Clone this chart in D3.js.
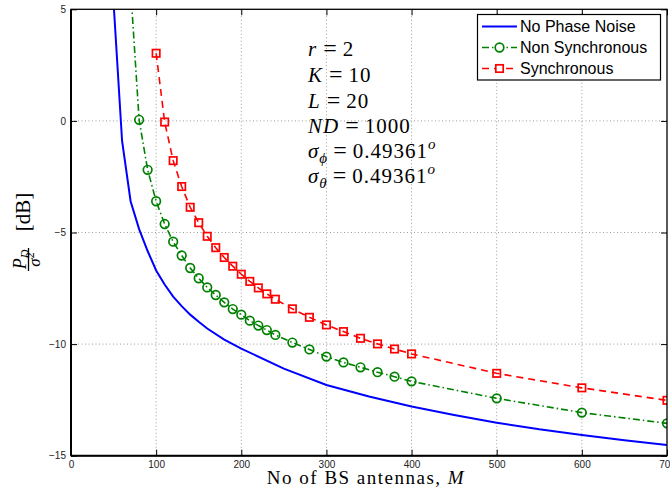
<!DOCTYPE html>
<html>
<head>
<meta charset="utf-8">
<script src="https://cdn.jsdelivr.net/npm/d3@7"></script>
<style>
  html, body { margin: 0; padding: 0; background: #fff; }
  svg { display: block; }
</style>
</head>
<body>
<div id="chart"></div>
<script>
// Values
const blueM = [50, 60, 70, 80, 90, 100, 110, 120, 130, 140, 150, 160, 180, 200, 250, 300, 350, 400, 450, 500, 550, 600, 650, 700];
const blueP = [5.3, -0.9, -3.6, -4.85, -5.83, -6.7, -7.33, -7.87, -8.3, -8.68, -9.0, -9.3, -9.8, -10.2, -11.1, -11.83, -12.35, -12.8, -13.18, -13.52, -13.82, -14.07, -14.31, -14.52];

const greenM = [70, 80, 90, 100, 110, 120, 130, 140, 150, 160, 170, 180, 190, 200, 210, 220, 230, 240, 260, 280, 300, 320, 340, 360, 380, 400, 500, 600, 700];
const greenP = [5.95, 0.05, -2.19, -3.6, -4.62, -5.41, -6.03, -6.59, -7.05, -7.46, -7.8, -8.13, -8.43, -8.68, -8.95, -9.17, -9.37, -9.59, -9.93, -10.24, -10.56, -10.82, -11.04, -11.26, -11.46, -11.67, -12.43, -13.07, -13.55];

const redM = [100, 110, 120, 130, 140, 150, 160, 170, 180, 190, 200, 210, 220, 230, 240, 260, 280, 300, 320, 340, 360, 380, 400, 500, 600, 700];
const redP = [3.03, -0.05, -1.78, -2.94, -3.87, -4.56, -5.17, -5.68, -6.12, -6.51, -6.87, -7.19, -7.48, -7.75, -7.99, -8.42, -8.8, -9.14, -9.44, -9.74, -9.99, -10.22, -10.44, -11.31, -11.96, -12.52];

const xTicks = [0, 100, 200, 300, 400, 500, 600, 700];
const yTicks = [-15, -10, -5, 0, 5];
const seriesNames = ["No Phase Noise", "Non Synchronous", "Synchronous"];

const width = 670, height = 494;
const pLeft = 71, pRight = 667, pTop = 9.3, pBottom = 455.7;

const svg = d3.select("#chart").append("svg")
    .attr("width", width)
    .attr("height", height);

const x = d3.scaleLinear().domain([0, 700]).range([pLeft, pRight]);
const y = d3.scaleLinear().domain([-15, 5]).range([pBottom, pTop]);

svg.append("clipPath").attr("id", "plotclip")
  .append("rect")
    .attr("x", pLeft).attr("y", pTop)
    .attr("width", pRight - pLeft).attr("height", pBottom - pTop);

// grid
const grid = svg.append("g");
grid.selectAll(".gx")
  .data(xTicks.slice(1, -1))
  .enter().append("line")
    .attr("x1", d => x(d)).attr("x2", d => x(d))
    .attr("y1", pTop).attr("y2", pBottom)
    .attr("stroke", "#9a9a9a").attr("stroke-width", 1)
    .attr("stroke-dasharray", "1,2.5");
grid.selectAll(".gy")
  .data(yTicks.slice(1, -1))
  .enter().append("line")
    .attr("x1", pLeft).attr("x2", pRight)
    .attr("y1", d => y(d)).attr("y2", d => y(d))
    .attr("stroke", "#9a9a9a").attr("stroke-width", 1)
    .attr("stroke-dasharray", "1,2.5");

// axes (ticks inside, on all four sides)
const tickFont = "Liberation Sans, Arial, sans-serif";
svg.append("g")
    .attr("transform", `translate(0,${pBottom})`)
    .call(d3.axisBottom(x).tickValues(xTicks).tickSizeInner(-6).tickSizeOuter(0).tickPadding(5))
    .call(g => g.select(".domain").remove())
    .call(g => g.selectAll("text").attr("font-size", "10px").attr("font-family", tickFont).attr("fill", "#222"));
svg.append("g")
    .attr("transform", `translate(0,${pTop})`)
    .call(d3.axisTop(x).tickValues(xTicks).tickSizeInner(-6).tickSizeOuter(0).tickFormat(""))
    .call(g => g.select(".domain").remove());
svg.append("g")
    .attr("transform", `translate(${pLeft},0)`)
    .call(d3.axisLeft(y).tickValues(yTicks).tickSizeInner(-6).tickSizeOuter(0).tickPadding(5)
      .tickFormat(d => d < 0 ? "\u2212" + Math.abs(d) : d))
    .call(g => g.select(".domain").remove())
    .call(g => g.selectAll("text").attr("font-size", "10px").attr("font-family", tickFont).attr("fill", "#222"));
svg.append("g")
    .attr("transform", `translate(${pRight},0)`)
    .call(d3.axisRight(y).tickValues(yTicks).tickSizeInner(-6).tickSizeOuter(0).tickFormat(""))
    .call(g => g.select(".domain").remove());

// lines
const line = d3.line().x(d => x(d[0])).y(d => y(d[1]));
const plot = svg.append("g").attr("clip-path", "url(#plotclip)");

const blue = blueM.map((m, i) => [m, blueP[i]]);
const green = greenM.map((m, i) => [m, greenP[i]]);
const red = redM.map((m, i) => [m, redP[i]]);

plot.append("path").datum(blue)
    .attr("d", line).attr("fill", "none")
    .attr("stroke", "#0000ff").attr("stroke-width", 2);

plot.append("path").datum(green)
    .attr("d", line).attr("fill", "none")
    .attr("stroke", "#008000").attr("stroke-width", 1.6)
    .attr("stroke-dasharray", "7,3,1.5,3");

plot.append("path").datum(red)
    .attr("d", line).attr("fill", "none")
    .attr("stroke", "#ff0000").attr("stroke-width", 1.6)
    .attr("stroke-dasharray", "7,5");

plot.selectAll(".circ")
  .data(green)
  .enter().append("circle")
    .attr("cx", d => x(d[0])).attr("cy", d => y(d[1]))
    .attr("r", 4.3)
    .attr("fill", "none").attr("stroke", "#008000").attr("stroke-width", 1.7);

plot.selectAll(".sq")
  .data(red)
  .enter().append("rect")
    .attr("x", d => x(d[0]) - 3.7).attr("y", d => y(d[1]) - 3.7)
    .attr("width", 7.4).attr("height", 7.4)
    .attr("fill", "none").attr("stroke", "#ff0000").attr("stroke-width", 1.7);

// frame
svg.append("rect")
    .attr("x", pLeft).attr("y", pTop)
    .attr("width", pRight - pLeft).attr("height", pBottom - pTop)
    .attr("fill", "none").attr("stroke", "#000").attr("stroke-width", 1.3);
svg.append("line")
    .attr("x1", pLeft).attr("x2", pLeft).attr("y1", pTop).attr("y2", pBottom)
    .attr("stroke", "#000").attr("stroke-width", 2);
svg.append("line")
    .attr("x1", pLeft).attr("x2", pRight).attr("y1", pBottom).attr("y2", pBottom)
    .attr("stroke", "#000").attr("stroke-width", 2);

// legend
const lg = svg.append("g");
lg.append("rect")
    .attr("x", 477.5).attr("y", 14.5)
    .attr("width", 183).attr("height", 65.5)
    .attr("fill", "#fff").attr("stroke", "#000").attr("stroke-width", 1.2);
const rowY = [26.5, 47.5, 68.5];
const styles = [
  { color: "#0000ff", dash: null, w: 2, marker: null },
  { color: "#008000", dash: "7,3,1.5,3", w: 1.6, marker: "circle" },
  { color: "#ff0000", dash: "7,5", w: 1.6, marker: "square" }
];
seriesNames.forEach((name, i) => {
  const s = styles[i];
  const ly = rowY[i];
  lg.append("line")
      .attr("x1", 482).attr("x2", 517).attr("y1", ly).attr("y2", ly)
      .attr("stroke", s.color).attr("stroke-width", s.w)
      .attr("stroke-dasharray", s.dash);
  if (s.marker === "circle") {
    lg.append("circle").attr("cx", 499.5).attr("cy", ly).attr("r", 4.3)
        .attr("fill", "#fff").attr("stroke", s.color).attr("stroke-width", 1.7);
  } else if (s.marker === "square") {
    lg.append("rect").attr("x", 499.5 - 3.7).attr("y", ly - 3.7)
        .attr("width", 7.4).attr("height", 7.4)
        .attr("fill", "#fff").attr("stroke", s.color).attr("stroke-width", 1.7);
  }
  lg.append("text")
      .attr("x", 520).attr("y", ly + 5.8)
      .attr("font-family", tickFont).attr("font-size", "16px")
      .attr("fill", "#000")
      .text(name);
});

// annotation block
const serif = "Liberation Serif, Times New Roman, serif";
const notes = svg.append("g")
    .attr("font-family", serif).attr("font-size", "21px").attr("fill", "#000");
const noteRows = [
  [["r", "i"], ["=", "eq"], ["2", "n"]],
  [["K", "i"], ["=", "eq"], ["10", "n"]],
  [["L", "i"], ["=", "eq"], ["20", "n"]],
  [["ND", "i"], ["=", "eq"], ["1000", "n"]],
  [["\u03C3", "i"], ["\u03D5", "sub"], ["=", "eq"], ["0.49361", "n"], ["o", "sup"]],
  [["\u03C3", "i"], ["\u03B8", "sub"], ["=", "eq"], ["0.49361", "n"], ["o", "sup"]]
];
const noteY = [56, 81.7, 108, 133.3, 157.5, 182.5];
noteRows.forEach((row, i) => {
  const t = notes.append("text").attr("x", 308).attr("y", noteY[i]);
  const hasSub = row.some(r => r[1] === "sub");
  row.forEach(([str, kind]) => {
    const sp = t.append("tspan").text(str);
    if (kind === "i") sp.attr("font-style", "italic").attr("letter-spacing", "1px");
    if (kind === "sub") sp.attr("font-style", "italic").attr("font-size", "15px").attr("dy", 5);
    if (kind === "sup") sp.attr("font-style", "italic").attr("font-size", "15px").attr("dy", -9);
    if (kind === "eq") {
      sp.attr("dx", 6).attr("font-size", "24px");
      if (hasSub) sp.attr("dy", -5);
    }
    if (kind === "n") sp.attr("dx", 6).attr("letter-spacing", "1px");
  });
});

// x label
const xl = svg.append("text")
    .attr("x", 366).attr("y", 484)
    .attr("text-anchor", "middle")
    .attr("font-family", serif).attr("font-size", "19px")
    .attr("letter-spacing", "1.5px").attr("fill", "#000");
xl.append("tspan").text("No of BS antennas, ");
xl.append("tspan").attr("font-style", "italic").text("M");

// y label (rotated fraction)
const yl = svg.append("g")
    .attr("transform", "rotate(-90)")
    .attr("font-family", serif).attr("fill", "#000");
yl.append("text")
    .attr("x", -212).attr("y", 29.5)
    .attr("text-anchor", "middle")
    .attr("font-size", "21px")
    .text("[dB]");
const num = yl.append("text")
    .attr("x", -259.5).attr("y", 26)
    .attr("text-anchor", "middle")
    .attr("font-size", "18px").attr("font-style", "italic");
num.append("tspan").text("P");
num.append("tspan").attr("font-size", "12px").attr("dy", 3).text("D");
yl.append("line")
    .attr("x1", -271).attr("x2", -248)
    .attr("y1", 28.5).attr("y2", 28.5)
    .attr("stroke", "#000").attr("stroke-width", 1.3);
const den = yl.append("text")
    .attr("x", -259.5).attr("y", 40)
    .attr("text-anchor", "middle")
    .attr("font-size", "17px").attr("font-style", "italic");
den.append("tspan").text("\u03C3");
den.append("tspan").attr("font-size", "12px").attr("font-style", "normal").attr("dy", -6).text("2");
</script>
</body>
</html>
